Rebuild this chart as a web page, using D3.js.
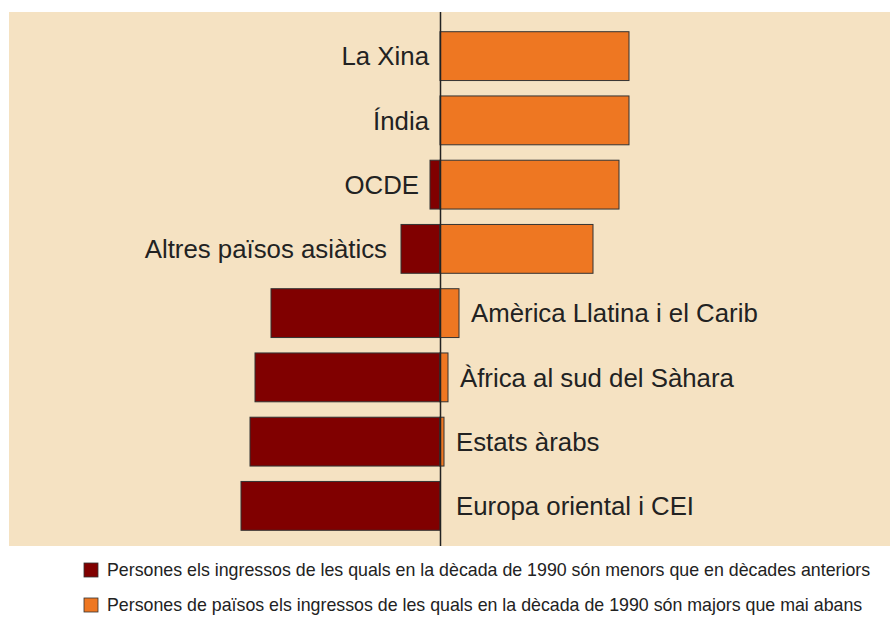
<!DOCTYPE html>
<html>
<head>
<meta charset="utf-8">
<script src="https://cdn.jsdelivr.net/npm/d3@7"></script>
<style>
  body { margin: 0; background: #fff; }
  text { font-family: "Liberation Sans", Arial, sans-serif; fill: #222; }
</style>
</head>
<body>
<div id="chart"></div>
<script>
const regions = ["La Xina", "Índia", "OCDE", "Altres països asiàtics",
  "Amèrica Llatina i el Carib", "Àfrica al sud del Sàhara", "Estats àrabs", "Europa oriental i CEI"];
// share of people whose income fell (drawn to the left) / rose above any earlier level (right)
const worse = [0, 0, 10, 39, 169, 185, 190, 199];
const better = [189, 189, 179, 153, 19, 8, 4, 0];
const legendLabels = [
  "Persones els ingressos de les quals en la dècada de 1990 són menors que en dècades anteriors",
  "Persones de països els ingressos de les quals en la dècada de 1990 són majors que mai abans"
];

const width = 890, height = 617;
const colors = ["#800000", "#ee7722"];

const svg = d3.select("#chart").append("svg")
  .attr("width", width)
  .attr("height", height);

svg.append("rect")
  .attr("x", 9).attr("y", 12)
  .attr("width", width - 9).attr("height", 534)
  .attr("fill", "#f5e2c2");

const x = d3.scaleLinear().domain([-200, 200]).range([240, 640]);
const y = d3.scaleBand().domain(regions).range([24, 538])
  .paddingInner(0.24).paddingOuter(0.12);

const rows = regions.map((r, i) => ({ region: r, worse: worse[i], better: better[i] }));

const g = svg.append("g")
  .attr("stroke", "#333")
  .attr("stroke-width", 1);

g.selectAll("rect.neg")
  .data(rows.filter(d => d.worse > 0))
  .join("rect")
  .attr("class", "neg")
  .attr("x", d => x(-d.worse))
  .attr("y", d => y(d.region))
  .attr("width", d => x(0) - x(-d.worse))
  .attr("height", y.bandwidth())
  .attr("fill", colors[0]);

g.selectAll("rect.pos")
  .data(rows.filter(d => d.better > 0))
  .join("rect")
  .attr("class", "pos")
  .attr("x", x(0))
  .attr("y", d => y(d.region))
  .attr("width", d => x(d.better) - x(0))
  .attr("height", y.bandwidth())
  .attr("fill", colors[1]);

svg.append("line")
  .attr("x1", x(0) + 0.5).attr("x2", x(0) + 0.5)
  .attr("y1", 12).attr("y2", 546)
  .attr("stroke", "#222")
  .attr("stroke-width", 1.5);

svg.append("g")
  .attr("font-size", 25.8)
  .selectAll("text")
  .data(rows)
  .join("text")
  .attr("y", d => y(d.region) + y.bandwidth() / 2)
  .attr("dy", "0.36em")
  .attr("text-anchor", d => d.better >= d.worse ? "end" : "start")
  .attr("x", d => d.better >= d.worse
    ? x(-d.worse) - (d.worse > 20 ? 14 : 11)
    : Math.max(x(d.better), x(4)) + 12)
  .text(d => d.region);

const legend = svg.append("g")
  .selectAll("g")
  .data(legendLabels)
  .join("g")
  .attr("transform", (d, i) => `translate(84,${563 + i * 35})`);

legend.append("rect")
  .attr("width", 14).attr("height", 14)
  .attr("fill", (d, i) => colors[i])
  .attr("stroke", "#333")
  .attr("stroke-width", 0.8);

legend.append("text")
  .attr("x", 23).attr("y", 7)
  .attr("dy", "0.36em")
  .attr("font-size", 17.8)
  .text(d => d);
</script>
</body>
</html>
